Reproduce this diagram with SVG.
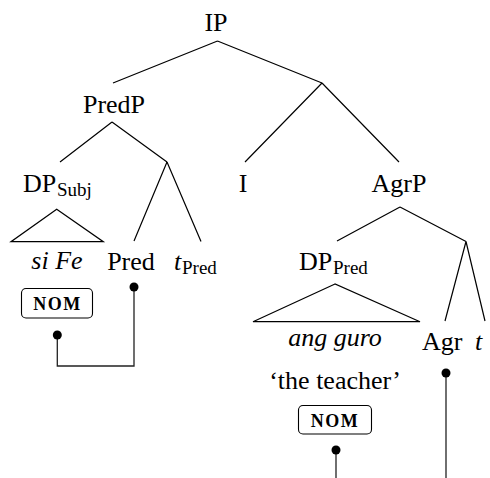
<svg xmlns="http://www.w3.org/2000/svg" width="490" height="478" viewBox="0 0 490 478">
<style>
.e{stroke:#000;stroke-width:1.2;fill:none}
.box{stroke:#000;stroke-width:1.1;fill:#fff}
.c{stroke:#222;stroke-width:1.3;fill:none}
.d{fill:#000}
</style>
<g id="edges">
<path class="e" d="M217.5,41 L113,83 M217.5,41 L322,83"/>
<path class="e" d="M112,122 L60,162 M112,122 L167,162"/>
<path class="e" d="M167,162 L134,241 M167,162 L201,241.5"/>
<path class="e" d="M322,83 L245,162 M322,83 L399,162"/>
<path class="e" d="M400,207 L337,241 M400,207 L466,241.5"/>
<path class="e" d="M466,241.5 L445,321 M466,241.5 L485,321"/>
<path class="e" d="M56.7,209.3 L11,241.7 L103.3,241.7 Z"/>
<path class="e" d="M335,284 L253,321.7 L420,321.7 Z"/>
</g>
<g id="node-IP"><text font-family="Liberation Serif" font-size="26" text-anchor="middle" x="216" y="31">IP</text></g>
<g id="node-PredP"><text font-family="Liberation Serif" font-size="26" text-anchor="middle" x="114" y="112.5">PredP</text></g>
<g id="node-DPSubj"><text font-family="Liberation Serif" font-size="26" x="23" y="192">DP</text><text font-family="Liberation Serif" font-size="19" x="57" y="195.5">Subj</text></g>
<g id="node-siFe"><text font-family="Liberation Serif" font-size="26" font-style="italic" text-anchor="middle" x="57" y="269">si Fe</text></g>
<g id="node-NOM1"><rect class="box" x="21.5" y="288.5" width="71" height="29.5" rx="4.5"/><text font-family="Liberation Serif" font-size="18" font-weight="bold" letter-spacing="1.5" text-anchor="middle" x="57.5" y="310">NOM</text></g>
<g id="node-Pred"><text font-family="Liberation Serif" font-size="26" text-anchor="middle" x="131" y="270">Pred</text></g>
<g id="node-tPred"><text font-family="Liberation Serif" font-size="26" font-style="italic" x="174" y="270">t</text><text font-family="Liberation Serif" font-size="19" x="182" y="273.5">Pred</text></g>
<g id="node-I"><text font-family="Liberation Serif" font-size="26" text-anchor="middle" x="243" y="192">I</text></g>
<g id="node-AgrP"><text font-family="Liberation Serif" font-size="26" text-anchor="middle" x="399" y="192">AgrP</text></g>
<g id="node-DPPred"><text font-family="Liberation Serif" font-size="26" x="299" y="270">DP</text><text font-family="Liberation Serif" font-size="19" x="333" y="273.5">Pred</text></g>
<g id="node-angguro"><text font-family="Liberation Serif" font-size="26" font-style="italic" text-anchor="middle" x="335" y="346">ang guro</text><text font-family="Liberation Serif" font-size="26" text-anchor="middle" x="335" y="389">&#8216;the teacher&#8217;</text></g>
<g id="node-NOM2"><rect class="box" x="298.5" y="405.5" width="73" height="28.5" rx="4.5"/><text font-family="Liberation Serif" font-size="18" font-weight="bold" letter-spacing="1.5" text-anchor="middle" x="335" y="426.5">NOM</text></g>
<g id="node-Agr"><text font-family="Liberation Serif" font-size="26" x="422" y="350">Agr</text></g>
<g id="node-t"><text font-family="Liberation Serif" font-size="26" font-style="italic" x="475" y="350">t</text></g>
<g id="connectors">
<path class="c" d="M134,287 V366 H57.3 V335"/>
<path class="c" d="M336,450 V478"/>
<path class="c" d="M446,373 V478"/>
<circle class="d" cx="134" cy="287" r="4.5"/>
<circle class="d" cx="57.3" cy="335" r="4.5"/>
<circle class="d" cx="336" cy="450" r="4.5"/>
<circle class="d" cx="446" cy="373" r="4.5"/>
</g>
</svg>
